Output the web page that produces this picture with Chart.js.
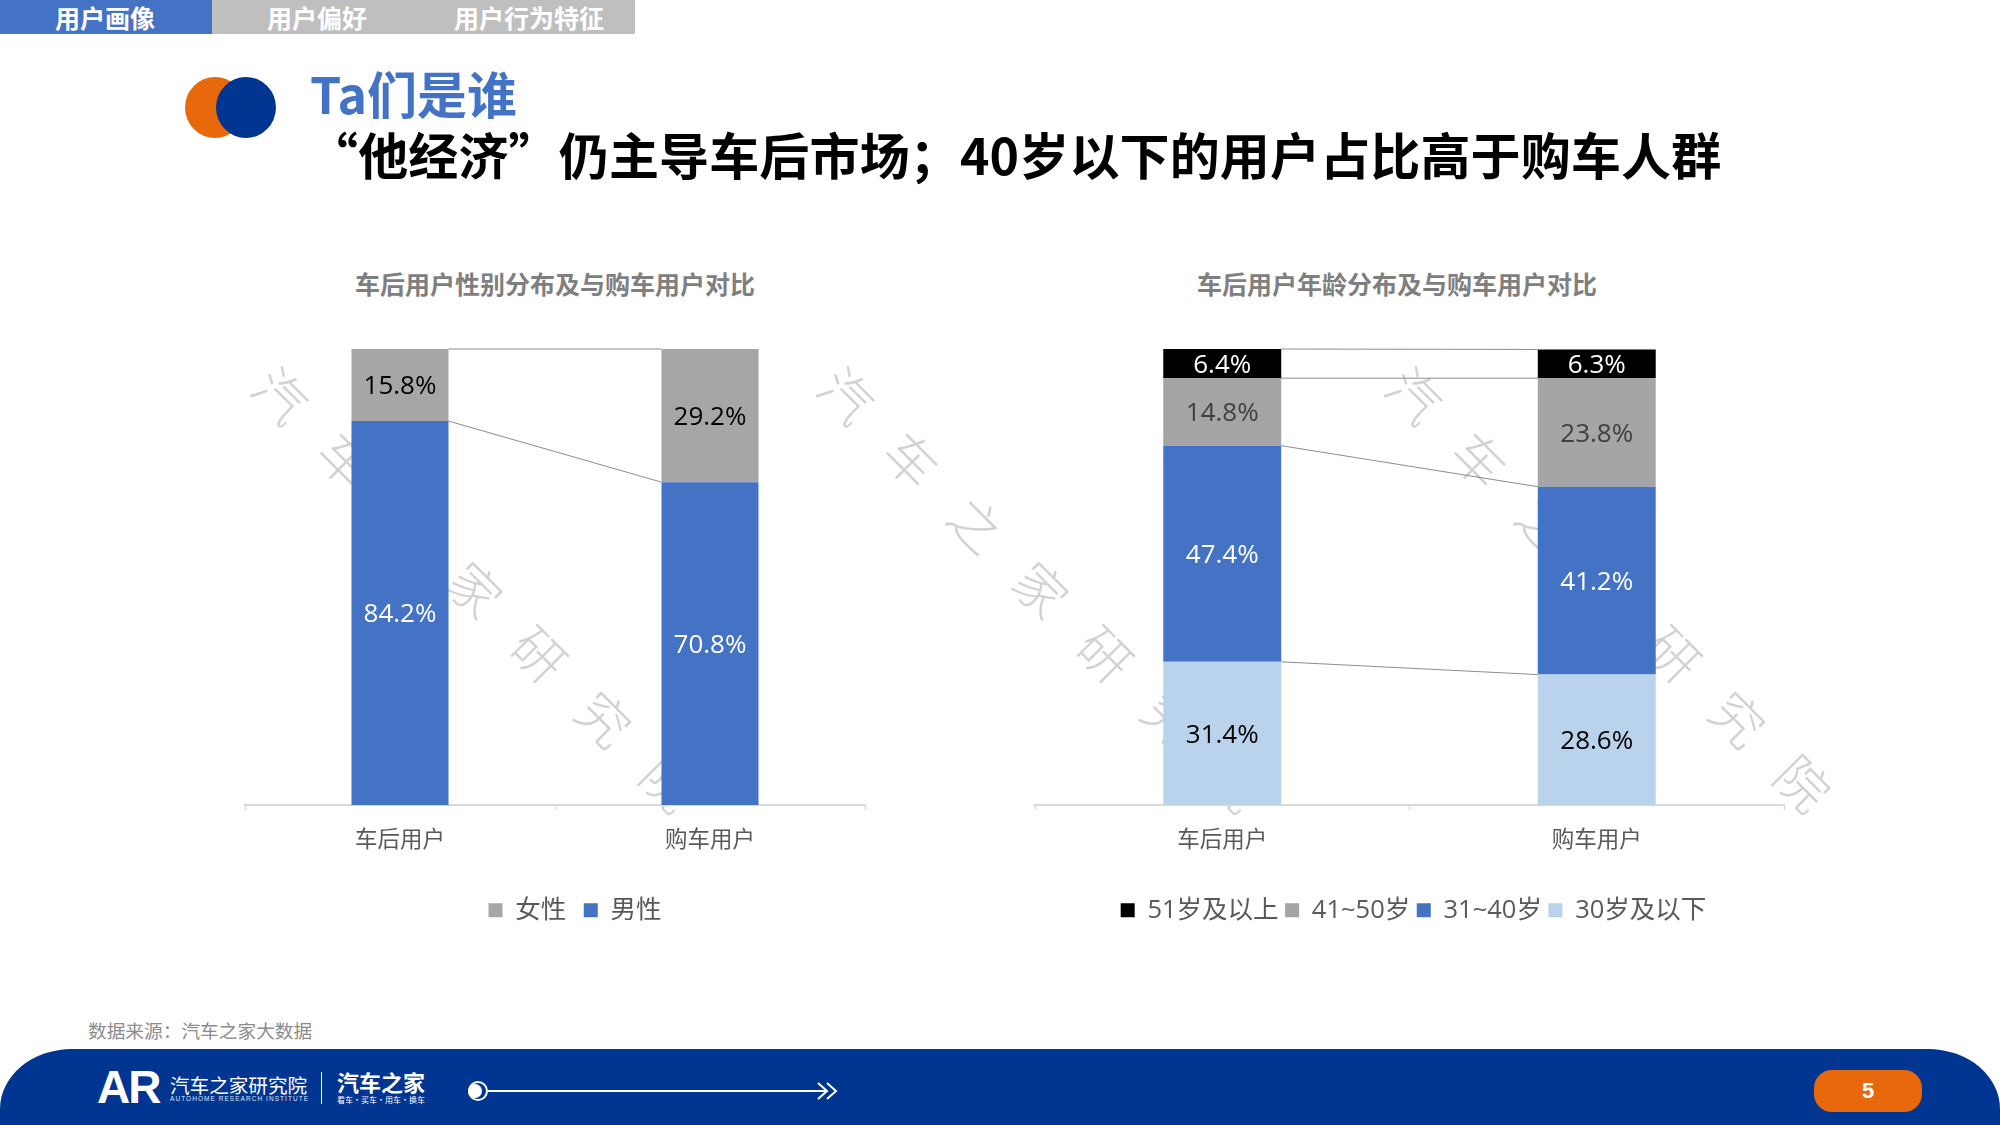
<!DOCTYPE html>
<html lang="zh-CN">
<head>
<meta charset="utf-8">
<title>Ta们是谁</title>
<script src="https://cdn.jsdelivr.net/npm/chart.js@4"></script>
<style>
  html, body { margin: 0; padding: 0; background: #fff; }
  #slide { position: relative; width: 2000px; height: 1125px; overflow: hidden; background: #fff;
    font-family: "Noto Sans CJK SC", sans-serif; }
  #slide div, #slide canvas, #slide svg { position: absolute; }
  .t { white-space: nowrap; line-height: 1; }
  .tab { top: 0; height: 34px; line-height: 34px; color: #fff; font-weight: 700; font-size: 25px; white-space: nowrap; }
  .wm { font-size: 52px; line-height: 52px; letter-spacing: 39.5px; color: #d2d2d2; font-weight: 300;
    transform-origin: 26px 26px; transform: rotate(45deg); white-space: nowrap; }
  .chart-title { font-size: 25px; font-weight: 700; color: #7f7f7f; top: 270px; line-height: 26px; white-space: nowrap; }
</style>
</head>
<body>
<div id="slide">
  <div style="left:0;top:0;width:212px;height:34px;background:#4472c4"></div>
  <div style="left:212px;top:0;width:423px;height:34px;background:#bfbfbf"></div>
  <div class="tab" style="left:55px">用户画像</div>
  <div class="tab" style="left:267px">用户偏好</div>
  <div class="tab" style="left:454px">用户行为特征</div>

  <div style="left:185px;top:77px;width:60px;height:61px;border-radius:50%;background:#e8690b"></div>
  <div style="left:216px;top:77px;width:60px;height:61px;border-radius:50%;background:#003591"></div>
  <div class="t" style="left:310px;top:67px;font-size:50px;font-weight:700;color:#4472c4">Ta们是谁</div>
  <div class="t" style="left:308px;top:128px;font-size:50px;font-weight:700;letter-spacing:0.15px;color:#000">“他经济”仍主导车后市场；40岁以下的用户占比高于购车人群</div>

  <div class="wm" style="left:256px;top:368px">汽车之家研究院</div>
  <div class="wm" style="left:822px;top:368px">汽车之家研究院</div>
  <div class="wm" style="left:1390px;top:368px">汽车之家研究院</div>

  <div class="chart-title" style="left:355px">车后用户性别分布及与购车用户对比</div>
  <div class="chart-title" style="left:1197px">车后用户年龄分布及与购车用户对比</div>

  <canvas id="genderChart" style="left:240px;top:339px"></canvas>
  <canvas id="ageChart" style="left:1030px;top:339px"></canvas>

  <div class="t" style="left:88px;top:1021px;font-size:18.7px;color:#8c8c8c">数据来源：汽车之家大数据</div>

  <div style="left:0;top:1049px;width:2000px;height:76px;background:#003591;border-radius:72px 72px 0 0 / 60px 60px 0 0"></div>
  <div class="t" style="left:97px;top:1064px;font-family:'Liberation Sans';font-weight:700;font-size:46px;letter-spacing:-2px;color:#fff">AR</div>
  <div class="t" style="left:170px;top:1075px;font-size:19.6px;color:#fff">汽车之家研究院</div>
  <div class="t" style="left:170px;top:1096px;font-family:'Liberation Sans';font-size:6.5px;letter-spacing:1.05px;color:#dfe7f5">AUTOHOME RESEARCH INSTITUTE</div>
  <div style="left:321px;top:1072px;width:1px;height:32px;background:#fff"></div>
  <div class="t" style="left:337px;top:1070px;font-size:22px;font-weight:700;color:#fff">汽车之家</div>
  <div class="t" style="left:337px;top:1096px;font-size:8px;color:#fff">看车·买车·用车·换车</div>
  <svg style="left:460px;top:1075px" width="390" height="32" fill="none" stroke="#fff">
    <circle cx="18" cy="16" r="9" stroke-width="2"></circle>
    <circle cx="15" cy="16" r="7" fill="#fff" stroke="none"></circle>
    <line x1="28" y1="16" x2="368" y2="16" stroke-width="2"></line>
    <path d="M358 8l9 8-9 8M367 8l9 8-9 8" stroke-width="2"></path>
  </svg>
  <div style="left:1814px;top:1070px;width:108px;height:42px;border-radius:18px;background:#e8690b"></div>
  <div style="left:1814px;top:1070px;width:108px;height:42px;line-height:42px;text-align:center;font-family:'Liberation Sans';font-weight:700;font-size:22px;color:#fff">5</div>
</div>
<script>
const categories = ['车后用户', '购车用户'];

const genderNames = ['男性', '女性'];
const maleValues = [84.2, 70.8];
const femaleValues = [15.8, 29.2];

const ageNames = ['30岁及以下', '31~40岁', '41~50岁', '51岁及以上'];
const age30Under = [31.4, 28.6];
const age31to40 = [47.4, 41.2];
const age41to50 = [14.8, 23.8];
const age51Plus = [6.4, 6.3];

const FONT = "'Open Sans','Noto Sans CJK SC',sans-serif";

// value labels and the thin series lines between the two bars
const barExtras = {
  id: 'barExtras',
  afterLayout(chart) {
    // the legend sits a little right of the plot centre in the original
    chart.legend.left += chart.options.legendShift;
    chart.legend.right += chart.options.legendShift;
  },
  afterDatasetsDraw(chart) {
    const ctx = chart.ctx;
    ctx.save();
    chart.data.datasets.forEach((ds, i) => {
      const bars = chart.getDatasetMeta(i).data;
      ctx.strokeStyle = '#8c8c8c';
      ctx.lineWidth = 1;
      ctx.beginPath();
      ctx.moveTo(bars[0].x + bars[0].width / 2, bars[0].y);
      ctx.lineTo(bars[1].x - bars[1].width / 2, bars[1].y);
      ctx.stroke();

      ctx.fillStyle = ds.valueColor;
      ctx.font = '26px ' + FONT;
      ctx.textAlign = 'center';
      ctx.textBaseline = 'middle';
      bars.forEach((bar, j) => {
        ctx.fillText(ds.data[j].toFixed(1) + '%', bar.x, (bar.y + bar.base) / 2 + 2);
      });
    });
    ctx.restore();
  }
};

function makeChart(id, width, datasets, opts) {
  const canvas = document.getElementById(id);
  canvas.width = width;
  canvas.height = 594;
  return new Chart(canvas, {
    type: 'bar',
    data: { labels: categories, datasets: datasets },
    plugins: [barExtras],
    options: {
      responsive: false,
      animation: false,
      devicePixelRatio: 1,
      legendShift: opts.legendShift,
      layout: { padding: { top: 10, left: 5, right: opts.paddingRight, bottom: 0 } },
      datasets: { bar: { barPercentage: opts.barPercentage, categoryPercentage: 1 } },
      scales: {
        x: {
          stacked: true,
          border: { color: '#d9d9d9', width: 2 },
          grid: { drawOnChartArea: false, color: '#d9d9d9', tickLength: 5, tickWidth: 1.5 },
          ticks: { color: '#595959', font: { family: FONT, size: 22.5 }, padding: 17, maxRotation: 0 },
          afterFit(scale) { scale.height = opts.axisHeight; }
        },
        y: { stacked: true, display: false, min: 0, max: 100 }
      },
      plugins: {
        title: { display: false },
        tooltip: { enabled: false },
        legend: {
          position: 'bottom',
          reverse: true,
          labels: {
            boxWidth: 14,
            boxHeight: 14,
            padding: opts.legendGap,
            color: '#595959',
            font: { family: FONT, size: 25.5 }
          }
        }
      }
    }
  });
}

makeChart('genderChart', 670, [
  { label: genderNames[0], data: maleValues, backgroundColor: '#4472c4', valueColor: '#ffffff' },
  { label: genderNames[1], data: femaleValues, backgroundColor: '#a6a6a6', valueColor: '#000000' }
], { barPercentage: 0.313, paddingRight: 45, legendGap: 17.5, axisHeight: 75, legendShift: 20 });

makeChart('ageChart', 768, [
  { label: ageNames[0], data: age30Under, backgroundColor: '#bad3ec', valueColor: '#000000' },
  { label: ageNames[1], data: age31to40, backgroundColor: '#4472c4', valueColor: '#ffffff' },
  { label: ageNames[2], data: age41to50, backgroundColor: '#a5a5a5', valueColor: '#404040' },
  { label: ageNames[3], data: age51Plus, backgroundColor: '#000000', valueColor: '#ffffff' }
], { barPercentage: 0.315, paddingRight: 14, legendGap: 6.5, axisHeight: 86, legendShift: 4 });
</script>
</body>
</html>
